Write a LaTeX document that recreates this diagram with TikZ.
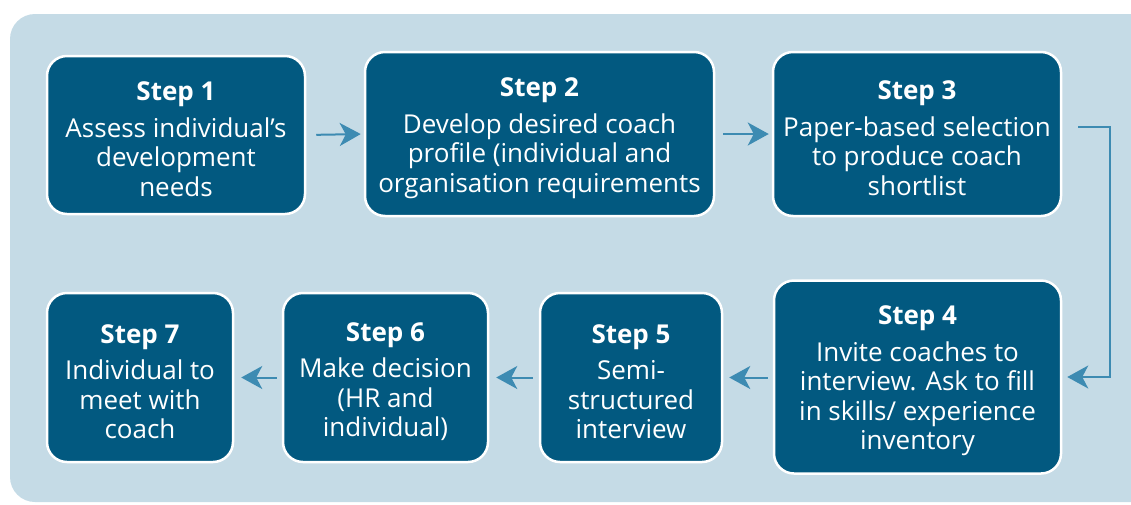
\documentclass[tikz,border=0pt]{standalone}
\usepackage{fontspec}
\setmainfont{Open Sans}
\usetikzlibrary{arrows.meta}
\definecolor{bgblue}{RGB}{197,219,230}
\definecolor{boxblue}{RGB}{2,89,128}
\definecolor{arrblue}{RGB}{61,139,178}
\newcommand{\stitle}[1]{{\bfseries\rule{0pt}{27pt}#1}\\[7pt]}
\tikzset{
  stepbox/.style={draw=white, line width=2.5pt, fill=boxblue, rounded corners=20pt,
    text=white, align=center, inner sep=0pt,
    font=\fontsize{26}{29.5}\selectfont},
  flowarrow/.style={draw=arrblue, line width=2pt,
    -{Stealth[length=21pt,width=23pt,inset=6pt]}},
}
\begin{document}
\begin{tikzpicture}[x=1pt,y=-1pt]
\useasboundingbox (0,0) rectangle (1131,504);
\begin{scope}
\clip (0,0) rectangle (1131,504);
\fill[bgblue, rounded corners=25pt] (10,14) rectangle (1170,502);
\end{scope}
\node[stepbox, minimum width=258pt, minimum height=158pt] (s1) at (176,135)
  {\stitle{Step 1}Assess individual’s\\development\\needs};
\node[stepbox, minimum width=349pt, minimum height=164pt] (s2) at (539.5,134)
  {\stitle{Step 2}Develop desired coach\\profile (individual and\\organisation requirements};
\node[stepbox, minimum width=288pt, minimum height=164pt] (s3) at (917,134)
  {\stitle{Step 3}Paper-based selection\\to produce coach\\shortlist};
\node[stepbox, minimum width=287pt, minimum height=193pt] (s4) at (917.5,377)
  {\stitle{Step 4}Invite coaches to\\interview. Ask to fill\\in skills/ experience\\inventory};
\node[stepbox, minimum width=182pt, minimum height=169pt] (s5) at (631,377.5)
  {\stitle{Step 5}Semi-\\structured\\interview};
\node[stepbox, minimum width=205pt, minimum height=169pt] (s6) at (385.5,377.5)
  {\stitle{Step 6}Make decision\\(HR and\\individual)};
\node[stepbox, minimum width=186pt, minimum height=169pt] (s7) at (140,377.5)
  {\stitle{Step 7}Individual to\\meet with\\coach};
\draw[flowarrow, shorten <=10pt, shorten >=3pt] (s1.east) -- (s2.west);
\draw[flowarrow, shorten <=8pt, shorten >=3pt] (s2.east) -- (s3.west);
\draw[flowarrow, shorten >=5pt] ([xshift=16pt,yshift=7pt]s3.east) -- ++(32,0) |- (s4.east);
\draw[flowarrow, shorten <=5pt, shorten >=6pt] (s4.west |- s5.west) -- (s5.east);
\draw[flowarrow, shorten <=6pt, shorten >=7pt] (s5.west) -- (s6.east);
\draw[flowarrow, shorten <=5pt, shorten >=7pt] (s6.west) -- (s7.east);
\end{tikzpicture}
\end{document}
